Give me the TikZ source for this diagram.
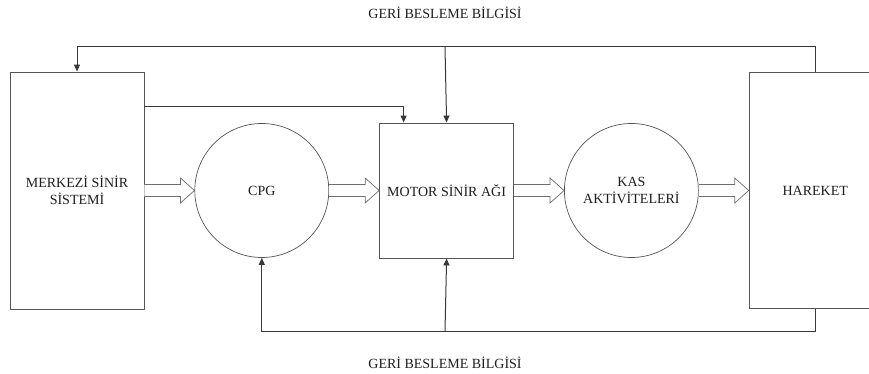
\documentclass[tikz,border=0pt]{standalone}
\usepackage{fontspec}
\setmainfont{Liberation Serif}
\usepackage{xcolor}
\usepackage{tikz}
\usetikzlibrary{positioning, arrows.meta, calc}
\definecolor{ink}{HTML}{1E1E1E}
\definecolor{edge}{HTML}{555555}
\definecolor{wire}{HTML}{383838}
\definecolor{pipe}{HTML}{6E6E6E}
\tikzset{
  block/.style  = {rectangle, draw=edge, line width=0.9pt, fill=white,
                  minimum width=134pt, align=center, inner sep=2pt,
                  text=ink, font=\fontsize{14}{16.5}\selectfont},
  unit/.style   = {circle, draw=edge, line width=0.7pt, fill=white,
                  minimum size=134pt, align=center, inner sep=0pt,
                  text=ink, font=\fontsize{14}{16.5}\selectfont},
  note/.style   = {text=ink, font=\fontsize{14}{16.5}\selectfont},
  fbar/.style   = {-{Triangle[length=7pt,width=6pt]}, line width=1pt, draw=wire},
  hollow/.style = {line width=0.7pt, draw=pipe, fill=white, line join=miter},
}
% hollow block arrow between two nodes (50pt apart)
\newcommand{\flowarrow}[2]{%
  \draw[hollow] ([yshift=6pt]#1.east) -- ++(36pt,0pt) -- ++(0pt,6.5pt)
    -- (#2.west) -- ++(-14pt,-12.5pt) -- ++(0pt,6.5pt) -- ([yshift=-6pt]#1.east);}

\begin{document}
\begin{tikzpicture}[x=1pt, y=-1pt, node distance=50pt]
  \useasboundingbox (0,0) rectangle (869,374);

  % Main chain
  \node[block, minimum height=237pt] at (77,190.5) (mss) {MERKEZİ SİNİR\\SİSTEMİ};
  \node[unit, right=of mss]  (cpg)   {CPG};
  \node[block, right=of cpg, minimum height=135pt] (motor) {MOTOR SİNİR AĞI};
  \node[unit, right=of motor] (kas)  {KAS\\AKTİVİTELERİ};
  \node[block, right=of kas, minimum width=132pt, minimum height=236pt] (har) {HAREKET};

  \flowarrow{mss}{cpg}
  \flowarrow{cpg}{motor}
  \flowarrow{motor}{kas}
  \flowarrow{kas}{har}

  % Feedback loops
  \coordinate (top) at (445,47);
  \coordinate (bot) at (445,331);
  \node[note] at (445,13)  (fbtop) {GERİ BESLEME BİLGİSİ};
  \node[note] at (445,363) (fbbot) {GERİ BESLEME BİLGİSİ};

  \draw[fbar] (har.north) -- (har.north |- top) -| (mss.north);
  \draw[fbar] (top) -- (motor.north);
  \draw[fbar] ([yshift=83.5pt]mss.east) -| ([xshift=-43pt]motor.north);

  \draw[fbar] (har.south) -- (har.south |- bot) -| (cpg.south);
  \draw[fbar] (bot) -- (motor.south);

\end{tikzpicture}
\end{document}
